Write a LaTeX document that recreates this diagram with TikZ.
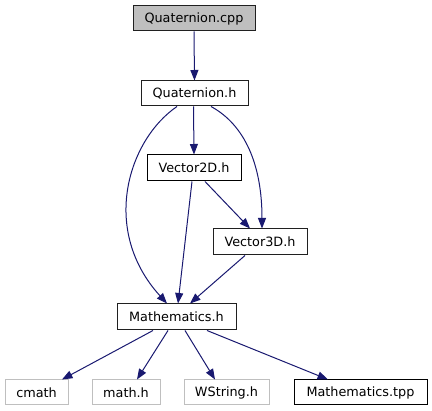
\documentclass[tikz,border=0pt]{standalone}
\usepackage{fontspec}
\setmainfont{DejaVu Sans}
\usetikzlibrary{arrows.meta}
\definecolor{edgeblue}{HTML}{191970}
\definecolor{darkborder}{HTML}{202020}
\definecolor{rootfill}{HTML}{BFBFBF}
\definecolor{sysborder}{HTML}{BFBFBF}
\tikzset{
  filebox/.style={draw=black, line width=1pt, inner sep=0pt, minimum height=25pt,
    font=\fontsize{12.8}{14}\selectfont, text=black},
  docbox/.style={filebox, draw=darkborder},
  rootbox/.style={filebox, draw=darkborder, fill=rootfill},
  sysbox/.style={filebox, draw=sysborder},
  dep/.style={draw=edgeblue, line width=1pt, -{Triangle[length=10.5pt,width=8pt]}, fill=none},
}
\begin{document}
\begin{tikzpicture}[x=1pt,y=-1pt]
\useasboundingbox (0,0) rectangle (432,411);
\node[rootbox, minimum width=122pt] (qcpp) at (194,18.5) {Quaternion.cpp};
\node[docbox, minimum width=107pt] (qh) at (194.5,93.5) {Quaternion.h};
\node[filebox, minimum width=94pt, minimum height=26pt] (v2d) at (194,168) {Vector2D.h};
\node[docbox, minimum width=94pt, minimum height=26pt] (v3d) at (260,242) {Vector3D.h};
\node[docbox, minimum width=119pt, minimum height=26pt] (math) at (176.5,317) {Mathematics.h};
\node[sysbox, minimum width=63pt] (cmath) at (36.5,392.5) {cmath};
\node[sysbox, minimum width=68pt] (mathh) at (126,392.5) {math.h};
\node[sysbox, minimum width=85pt] (wstr) at (226.5,392.5) {WString.h};
\node[filebox, minimum width=133pt] (tpp) at (360.5,392.5) {Mathematics.tpp};

\draw[dep] (qcpp.south) -- (qh.north);
\draw[dep] ([xshift=-1pt]qh.south) -- (v2d.north);
\draw[dep] ([xshift=-17.5pt]qh.south) .. controls (128,140) and (100,230) .. ([xshift=-9.5pt]math.north);
\draw[dep] ([xshift=16.5pt]qh.south) .. controls (245,125) and (262,165) .. ([xshift=2pt]v3d.north);
\draw[dep] ([xshift=-2pt]v2d.south) -- ([xshift=1.5pt]math.north);
\draw[dep] ([xshift=11pt]v2d.south) -- ([xshift=-10pt]v3d.north);
\draw[dep] ([xshift=-15pt]v3d.south) -- ([xshift=13.5pt]math.north);
\draw[dep] ([xshift=-23.5pt]math.south) -- ([xshift=25.5pt]cmath.north);
\draw[dep] ([xshift=-8.5pt]math.south) -- ([xshift=11pt]mathh.north);
\draw[dep] ([xshift=8.5pt]math.south) -- ([xshift=-11.5pt]wstr.north);
\draw[dep] ([xshift=30.5pt]math.south) -- ([xshift=-32.5pt]tpp.north);
\end{tikzpicture}
\end{document}
